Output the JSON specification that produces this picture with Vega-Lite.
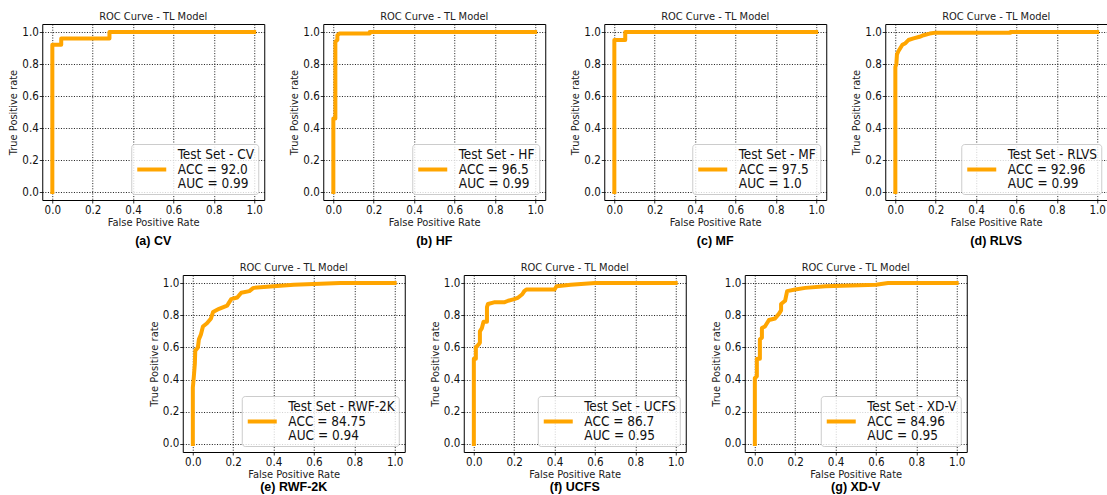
{
  "$schema": "https://vega.github.io/schema/vega-lite/v6.json",
  "padding": {"left": 7, "top": 10, "right": 0, "bottom": 0},
  "background": "white",
  "datasets": {
    "cv": [
      {"i": 0, "fpr": 0, "tpr": 0, "s": "ACC = 92.0|AUC = 0.99"},
      {"i": 1, "fpr": 0, "tpr": 0.92, "s": "ACC = 92.0|AUC = 0.99"},
      {"i": 2, "fpr": 0.044, "tpr": 0.92, "s": "ACC = 92.0|AUC = 0.99"},
      {"i": 3, "fpr": 0.044, "tpr": 0.96, "s": "ACC = 92.0|AUC = 0.99"},
      {"i": 4, "fpr": 0.283, "tpr": 0.96, "s": "ACC = 92.0|AUC = 0.99"},
      {"i": 5, "fpr": 0.283, "tpr": 1.0, "s": "ACC = 92.0|AUC = 0.99"},
      {"i": 6, "fpr": 1, "tpr": 1.0, "s": "ACC = 92.0|AUC = 0.99"}
    ],
    "hf": [
      {"i": 0, "fpr": 0, "tpr": 0, "s": "ACC = 96.5|AUC = 0.99"},
      {"i": 1, "fpr": 0, "tpr": 0.46, "s": "ACC = 96.5|AUC = 0.99"},
      {"i": 2, "fpr": 0.01, "tpr": 0.46, "s": "ACC = 96.5|AUC = 0.99"},
      {"i": 3, "fpr": 0.01, "tpr": 0.94, "s": "ACC = 96.5|AUC = 0.99"},
      {"i": 4, "fpr": 0.02, "tpr": 0.95, "s": "ACC = 96.5|AUC = 0.99"},
      {"i": 5, "fpr": 0.02, "tpr": 0.98, "s": "ACC = 96.5|AUC = 0.99"},
      {"i": 6, "fpr": 0.03, "tpr": 0.99, "s": "ACC = 96.5|AUC = 0.99"},
      {"i": 7, "fpr": 0.18, "tpr": 0.99, "s": "ACC = 96.5|AUC = 0.99"},
      {"i": 8, "fpr": 0.18, "tpr": 1.0, "s": "ACC = 96.5|AUC = 0.99"},
      {"i": 9, "fpr": 1, "tpr": 1.0, "s": "ACC = 96.5|AUC = 0.99"}
    ],
    "mf": [
      {"i": 0, "fpr": 0, "tpr": 0, "s": "ACC = 97.5|AUC = 1.0"},
      {"i": 1, "fpr": 0, "tpr": 0.95, "s": "ACC = 97.5|AUC = 1.0"},
      {"i": 2, "fpr": 0.054, "tpr": 0.95, "s": "ACC = 97.5|AUC = 1.0"},
      {"i": 3, "fpr": 0.054, "tpr": 1.0, "s": "ACC = 97.5|AUC = 1.0"},
      {"i": 4, "fpr": 1, "tpr": 1.0, "s": "ACC = 97.5|AUC = 1.0"}
    ],
    "rlvs": [
      {"i": 0, "fpr": 0, "tpr": 0, "s": "ACC = 92.96|AUC = 0.99"},
      {"i": 1, "fpr": 0, "tpr": 0.78, "s": "ACC = 92.96|AUC = 0.99"},
      {"i": 2, "fpr": 0.005, "tpr": 0.8, "s": "ACC = 92.96|AUC = 0.99"},
      {"i": 3, "fpr": 0.008, "tpr": 0.86, "s": "ACC = 92.96|AUC = 0.99"},
      {"i": 4, "fpr": 0.015, "tpr": 0.88, "s": "ACC = 92.96|AUC = 0.99"},
      {"i": 5, "fpr": 0.025, "tpr": 0.9, "s": "ACC = 92.96|AUC = 0.99"},
      {"i": 6, "fpr": 0.035, "tpr": 0.92, "s": "ACC = 92.96|AUC = 0.99"},
      {"i": 7, "fpr": 0.05, "tpr": 0.93, "s": "ACC = 92.96|AUC = 0.99"},
      {"i": 8, "fpr": 0.065, "tpr": 0.95, "s": "ACC = 92.96|AUC = 0.99"},
      {"i": 9, "fpr": 0.09, "tpr": 0.96, "s": "ACC = 92.96|AUC = 0.99"},
      {"i": 10, "fpr": 0.12, "tpr": 0.97, "s": "ACC = 92.96|AUC = 0.99"},
      {"i": 11, "fpr": 0.14, "tpr": 0.98, "s": "ACC = 92.96|AUC = 0.99"},
      {"i": 12, "fpr": 0.17, "tpr": 0.99, "s": "ACC = 92.96|AUC = 0.99"},
      {"i": 13, "fpr": 0.2, "tpr": 0.996, "s": "ACC = 92.96|AUC = 0.99"},
      {"i": 14, "fpr": 0.57, "tpr": 0.996, "s": "ACC = 92.96|AUC = 0.99"},
      {"i": 15, "fpr": 0.57, "tpr": 1.0, "s": "ACC = 92.96|AUC = 0.99"},
      {"i": 16, "fpr": 1, "tpr": 1.0, "s": "ACC = 92.96|AUC = 0.99"}
    ],
    "rwf": [
      {"i": 0, "fpr": 0, "tpr": 0, "s": "ACC = 84.75|AUC = 0.94"},
      {"i": 1, "fpr": 0, "tpr": 0.35, "s": "ACC = 84.75|AUC = 0.94"},
      {"i": 2, "fpr": 0.005, "tpr": 0.42, "s": "ACC = 84.75|AUC = 0.94"},
      {"i": 3, "fpr": 0.01, "tpr": 0.5, "s": "ACC = 84.75|AUC = 0.94"},
      {"i": 4, "fpr": 0.012, "tpr": 0.58, "s": "ACC = 84.75|AUC = 0.94"},
      {"i": 5, "fpr": 0.025, "tpr": 0.6, "s": "ACC = 84.75|AUC = 0.94"},
      {"i": 6, "fpr": 0.03, "tpr": 0.65, "s": "ACC = 84.75|AUC = 0.94"},
      {"i": 7, "fpr": 0.04, "tpr": 0.68, "s": "ACC = 84.75|AUC = 0.94"},
      {"i": 8, "fpr": 0.05, "tpr": 0.73, "s": "ACC = 84.75|AUC = 0.94"},
      {"i": 9, "fpr": 0.07, "tpr": 0.75, "s": "ACC = 84.75|AUC = 0.94"},
      {"i": 10, "fpr": 0.09, "tpr": 0.78, "s": "ACC = 84.75|AUC = 0.94"},
      {"i": 11, "fpr": 0.1, "tpr": 0.82, "s": "ACC = 84.75|AUC = 0.94"},
      {"i": 12, "fpr": 0.13, "tpr": 0.84, "s": "ACC = 84.75|AUC = 0.94"},
      {"i": 13, "fpr": 0.17, "tpr": 0.86, "s": "ACC = 84.75|AUC = 0.94"},
      {"i": 14, "fpr": 0.19, "tpr": 0.9, "s": "ACC = 84.75|AUC = 0.94"},
      {"i": 15, "fpr": 0.22, "tpr": 0.91, "s": "ACC = 84.75|AUC = 0.94"},
      {"i": 16, "fpr": 0.24, "tpr": 0.94, "s": "ACC = 84.75|AUC = 0.94"},
      {"i": 17, "fpr": 0.28, "tpr": 0.95, "s": "ACC = 84.75|AUC = 0.94"},
      {"i": 18, "fpr": 0.3, "tpr": 0.97, "s": "ACC = 84.75|AUC = 0.94"},
      {"i": 19, "fpr": 0.4, "tpr": 0.98, "s": "ACC = 84.75|AUC = 0.94"},
      {"i": 20, "fpr": 0.5, "tpr": 0.99, "s": "ACC = 84.75|AUC = 0.94"},
      {"i": 21, "fpr": 0.73, "tpr": 1.0, "s": "ACC = 84.75|AUC = 0.94"},
      {"i": 22, "fpr": 1, "tpr": 1.0, "s": "ACC = 84.75|AUC = 0.94"}
    ],
    "ucfs": [
      {"i": 0, "fpr": 0, "tpr": 0, "s": "ACC = 86.7|AUC = 0.95"},
      {"i": 1, "fpr": 0, "tpr": 0.53, "s": "ACC = 86.7|AUC = 0.95"},
      {"i": 2, "fpr": 0.01, "tpr": 0.53, "s": "ACC = 86.7|AUC = 0.95"},
      {"i": 3, "fpr": 0.01, "tpr": 0.6, "s": "ACC = 86.7|AUC = 0.95"},
      {"i": 4, "fpr": 0.025, "tpr": 0.62, "s": "ACC = 86.7|AUC = 0.95"},
      {"i": 5, "fpr": 0.03, "tpr": 0.63, "s": "ACC = 86.7|AUC = 0.95"},
      {"i": 6, "fpr": 0.03, "tpr": 0.7, "s": "ACC = 86.7|AUC = 0.95"},
      {"i": 7, "fpr": 0.04, "tpr": 0.72, "s": "ACC = 86.7|AUC = 0.95"},
      {"i": 8, "fpr": 0.048, "tpr": 0.76, "s": "ACC = 86.7|AUC = 0.95"},
      {"i": 9, "fpr": 0.065, "tpr": 0.76, "s": "ACC = 86.7|AUC = 0.95"},
      {"i": 10, "fpr": 0.065, "tpr": 0.85, "s": "ACC = 86.7|AUC = 0.95"},
      {"i": 11, "fpr": 0.07, "tpr": 0.87, "s": "ACC = 86.7|AUC = 0.95"},
      {"i": 12, "fpr": 0.1, "tpr": 0.88, "s": "ACC = 86.7|AUC = 0.95"},
      {"i": 13, "fpr": 0.15, "tpr": 0.88, "s": "ACC = 86.7|AUC = 0.95"},
      {"i": 14, "fpr": 0.17, "tpr": 0.89, "s": "ACC = 86.7|AUC = 0.95"},
      {"i": 15, "fpr": 0.2, "tpr": 0.9, "s": "ACC = 86.7|AUC = 0.95"},
      {"i": 16, "fpr": 0.22, "tpr": 0.91, "s": "ACC = 86.7|AUC = 0.95"},
      {"i": 17, "fpr": 0.24, "tpr": 0.93, "s": "ACC = 86.7|AUC = 0.95"},
      {"i": 18, "fpr": 0.25, "tpr": 0.95, "s": "ACC = 86.7|AUC = 0.95"},
      {"i": 19, "fpr": 0.26, "tpr": 0.96, "s": "ACC = 86.7|AUC = 0.95"},
      {"i": 20, "fpr": 0.4, "tpr": 0.96, "s": "ACC = 86.7|AUC = 0.95"},
      {"i": 21, "fpr": 0.41, "tpr": 0.98, "s": "ACC = 86.7|AUC = 0.95"},
      {"i": 22, "fpr": 0.48, "tpr": 0.99, "s": "ACC = 86.7|AUC = 0.95"},
      {"i": 23, "fpr": 0.6, "tpr": 1.0, "s": "ACC = 86.7|AUC = 0.95"},
      {"i": 24, "fpr": 1, "tpr": 1.0, "s": "ACC = 86.7|AUC = 0.95"}
    ],
    "xdv": [
      {"i": 0, "fpr": 0, "tpr": 0, "s": "ACC = 84.96|AUC = 0.95"},
      {"i": 1, "fpr": 0, "tpr": 0.41, "s": "ACC = 84.96|AUC = 0.95"},
      {"i": 2, "fpr": 0.01, "tpr": 0.42, "s": "ACC = 84.96|AUC = 0.95"},
      {"i": 3, "fpr": 0.01, "tpr": 0.53, "s": "ACC = 84.96|AUC = 0.95"},
      {"i": 4, "fpr": 0.025, "tpr": 0.53, "s": "ACC = 84.96|AUC = 0.95"},
      {"i": 5, "fpr": 0.025, "tpr": 0.65, "s": "ACC = 84.96|AUC = 0.95"},
      {"i": 6, "fpr": 0.035, "tpr": 0.66, "s": "ACC = 84.96|AUC = 0.95"},
      {"i": 7, "fpr": 0.035, "tpr": 0.72, "s": "ACC = 84.96|AUC = 0.95"},
      {"i": 8, "fpr": 0.05, "tpr": 0.73, "s": "ACC = 84.96|AUC = 0.95"},
      {"i": 9, "fpr": 0.07, "tpr": 0.77, "s": "ACC = 84.96|AUC = 0.95"},
      {"i": 10, "fpr": 0.1, "tpr": 0.78, "s": "ACC = 84.96|AUC = 0.95"},
      {"i": 11, "fpr": 0.12, "tpr": 0.81, "s": "ACC = 84.96|AUC = 0.95"},
      {"i": 12, "fpr": 0.13, "tpr": 0.83, "s": "ACC = 84.96|AUC = 0.95"},
      {"i": 13, "fpr": 0.13, "tpr": 0.87, "s": "ACC = 84.96|AUC = 0.95"},
      {"i": 14, "fpr": 0.15, "tpr": 0.89, "s": "ACC = 84.96|AUC = 0.95"},
      {"i": 15, "fpr": 0.16, "tpr": 0.95, "s": "ACC = 84.96|AUC = 0.95"},
      {"i": 16, "fpr": 0.2, "tpr": 0.96, "s": "ACC = 84.96|AUC = 0.95"},
      {"i": 17, "fpr": 0.25, "tpr": 0.97, "s": "ACC = 84.96|AUC = 0.95"},
      {"i": 18, "fpr": 0.35, "tpr": 0.98, "s": "ACC = 84.96|AUC = 0.95"},
      {"i": 19, "fpr": 0.6, "tpr": 0.99, "s": "ACC = 84.96|AUC = 0.95"},
      {"i": 20, "fpr": 0.66, "tpr": 1.0, "s": "ACC = 84.96|AUC = 0.95"},
      {"i": 21, "fpr": 1, "tpr": 1.0, "s": "ACC = 84.96|AUC = 0.95"}
    ]
  },
  "vconcat": [
    {
      "hconcat": [
        {
          "title": {"text": "(a) CV", "orient": "bottom", "anchor": "middle", "font": "Liberation Sans", "fontSize": 12.5, "fontWeight": "bold", "color": "#000000", "dx": 111, "offset": 7},
          "vconcat": [{"width": 222, "height": 176, "title": "ROC Curve - TL Model", "data": {"name": "cv"}, "mark": {"type": "line"},
            "encoding": {
              "x": {"field": "fpr", "type": "quantitative", "scale": {"domain": [-0.05, 1.05], "nice": false, "zero": false}, "axis": {"title": "False Positive Rate", "values": [0, 0.2, 0.4, 0.6, 0.8, 1]}},
              "y": {"field": "tpr", "type": "quantitative", "scale": {"domain": [-0.05, 1.05], "nice": false, "zero": false}, "axis": {"title": "True Positive rate", "values": [0, 0.2, 0.4, 0.6, 0.8, 1]}},
              "order": {"field": "i", "type": "quantitative"},
              "color": {"field": "s", "type": "nominal", "scale": {"range": ["#FFA500"]}, "legend": {"title": "\u200b\u00a0\u00a0\u00a0\u00a0\u00a0\u00a0\u00a0\u00a0\u00a0\u00a0\u00a0Test Set - CV", "labelExpr": "split(datum.label, '|')"}}
            }}],
          "resolve": {"scale": {"color": "independent"}, "legend": {"color": "independent"}}
        },
        {
          "title": {"text": "(b) HF", "orient": "bottom", "anchor": "middle", "font": "Liberation Sans", "fontSize": 12.5, "fontWeight": "bold", "color": "#000000", "dx": 111, "offset": 7},
          "vconcat": [{"width": 222, "height": 176, "title": "ROC Curve - TL Model", "data": {"name": "hf"}, "mark": {"type": "line"},
            "encoding": {
              "x": {"field": "fpr", "type": "quantitative", "scale": {"domain": [-0.05, 1.05], "nice": false, "zero": false}, "axis": {"title": "False Positive Rate", "values": [0, 0.2, 0.4, 0.6, 0.8, 1]}},
              "y": {"field": "tpr", "type": "quantitative", "scale": {"domain": [-0.05, 1.05], "nice": false, "zero": false}, "axis": {"title": "True Positive rate", "values": [0, 0.2, 0.4, 0.6, 0.8, 1]}},
              "order": {"field": "i", "type": "quantitative"},
              "color": {"field": "s", "type": "nominal", "scale": {"range": ["#FFA500"]}, "legend": {"title": "\u200b\u00a0\u00a0\u00a0\u00a0\u00a0\u00a0\u00a0\u00a0\u00a0\u00a0\u00a0Test Set - HF", "labelExpr": "split(datum.label, '|')"}}
            }}],
          "resolve": {"scale": {"color": "independent"}, "legend": {"color": "independent"}}
        },
        {
          "title": {"text": "(c) MF", "orient": "bottom", "anchor": "middle", "font": "Liberation Sans", "fontSize": 12.5, "fontWeight": "bold", "color": "#000000", "dx": 111, "offset": 7},
          "vconcat": [{"width": 222, "height": 176, "title": "ROC Curve - TL Model", "data": {"name": "mf"}, "mark": {"type": "line"},
            "encoding": {
              "x": {"field": "fpr", "type": "quantitative", "scale": {"domain": [-0.05, 1.05], "nice": false, "zero": false}, "axis": {"title": "False Positive Rate", "values": [0, 0.2, 0.4, 0.6, 0.8, 1]}},
              "y": {"field": "tpr", "type": "quantitative", "scale": {"domain": [-0.05, 1.05], "nice": false, "zero": false}, "axis": {"title": "True Positive rate", "values": [0, 0.2, 0.4, 0.6, 0.8, 1]}},
              "order": {"field": "i", "type": "quantitative"},
              "color": {"field": "s", "type": "nominal", "scale": {"range": ["#FFA500"]}, "legend": {"title": "\u200b\u00a0\u00a0\u00a0\u00a0\u00a0\u00a0\u00a0\u00a0\u00a0\u00a0\u00a0Test Set - MF", "labelExpr": "split(datum.label, '|')"}}
            }}],
          "resolve": {"scale": {"color": "independent"}, "legend": {"color": "independent"}}
        },
        {
          "title": {"text": "(d) RLVS", "orient": "bottom", "anchor": "middle", "font": "Liberation Sans", "fontSize": 12.5, "fontWeight": "bold", "color": "#000000", "dx": 111, "offset": 7},
          "vconcat": [{"width": 222, "height": 176, "title": "ROC Curve - TL Model", "data": {"name": "rlvs"}, "mark": {"type": "line"},
            "encoding": {
              "x": {"field": "fpr", "type": "quantitative", "scale": {"domain": [-0.05, 1.05], "nice": false, "zero": false}, "axis": {"title": "False Positive Rate", "values": [0, 0.2, 0.4, 0.6, 0.8, 1]}},
              "y": {"field": "tpr", "type": "quantitative", "scale": {"domain": [-0.05, 1.05], "nice": false, "zero": false}, "axis": {"title": "True Positive rate", "values": [0, 0.2, 0.4, 0.6, 0.8, 1]}},
              "order": {"field": "i", "type": "quantitative"},
              "color": {"field": "s", "type": "nominal", "scale": {"range": ["#FFA500"]}, "legend": {"title": "\u200b\u00a0\u00a0\u00a0\u00a0\u00a0\u00a0\u00a0\u00a0\u00a0\u00a0\u00a0Test Set - RLVS", "labelExpr": "split(datum.label, '|')"}}
            }}],
          "resolve": {"scale": {"color": "independent"}, "legend": {"color": "independent"}}
        }
      ],
      "spacing": 23,
      "resolve": {"scale": {"color": "independent"}, "legend": {"color": "independent"}}
    },
    {
      "hconcat": [
        {
          "title": {"text": "(e) RWF-2K", "orient": "bottom", "anchor": "middle", "font": "Liberation Sans", "fontSize": 12.5, "fontWeight": "bold", "color": "#000000", "dx": 111, "offset": 1},
          "vconcat": [{"width": 222, "height": 177, "title": "ROC Curve - TL Model", "data": {"name": "rwf"}, "mark": {"type": "line"},
            "encoding": {
              "x": {"field": "fpr", "type": "quantitative", "scale": {"domain": [-0.05, 1.05], "nice": false, "zero": false}, "axis": {"title": "False Positive Rate", "values": [0, 0.2, 0.4, 0.6, 0.8, 1]}},
              "y": {"field": "tpr", "type": "quantitative", "scale": {"domain": [-0.05, 1.05], "nice": false, "zero": false}, "axis": {"title": "True Positive rate", "values": [0, 0.2, 0.4, 0.6, 0.8, 1]}},
              "order": {"field": "i", "type": "quantitative"},
              "color": {"field": "s", "type": "nominal", "scale": {"range": ["#FFA500"]}, "legend": {"title": "\u200b\u00a0\u00a0\u00a0\u00a0\u00a0\u00a0\u00a0\u00a0\u00a0\u00a0\u00a0Test Set - RWF-2K", "labelExpr": "split(datum.label, '|')"}}
            }}],
          "resolve": {"scale": {"color": "independent"}, "legend": {"color": "independent"}}
        },
        {
          "title": {"text": "(f) UCFS", "orient": "bottom", "anchor": "middle", "font": "Liberation Sans", "fontSize": 12.5, "fontWeight": "bold", "color": "#000000", "dx": 111, "offset": 1},
          "vconcat": [{"width": 222, "height": 177, "title": "ROC Curve - TL Model", "data": {"name": "ucfs"}, "mark": {"type": "line"},
            "encoding": {
              "x": {"field": "fpr", "type": "quantitative", "scale": {"domain": [-0.05, 1.05], "nice": false, "zero": false}, "axis": {"title": "False Positive Rate", "values": [0, 0.2, 0.4, 0.6, 0.8, 1]}},
              "y": {"field": "tpr", "type": "quantitative", "scale": {"domain": [-0.05, 1.05], "nice": false, "zero": false}, "axis": {"title": "True Positive rate", "values": [0, 0.2, 0.4, 0.6, 0.8, 1]}},
              "order": {"field": "i", "type": "quantitative"},
              "color": {"field": "s", "type": "nominal", "scale": {"range": ["#FFA500"]}, "legend": {"title": "\u200b\u00a0\u00a0\u00a0\u00a0\u00a0\u00a0\u00a0\u00a0\u00a0\u00a0\u00a0Test Set - UCFS", "labelExpr": "split(datum.label, '|')"}}
            }}],
          "resolve": {"scale": {"color": "independent"}, "legend": {"color": "independent"}}
        },
        {
          "title": {"text": "(g) XD-V", "orient": "bottom", "anchor": "middle", "font": "Liberation Sans", "fontSize": 12.5, "fontWeight": "bold", "color": "#000000", "dx": 111, "offset": 1},
          "vconcat": [{"width": 222, "height": 177, "title": "ROC Curve - TL Model", "data": {"name": "xdv"}, "mark": {"type": "line"},
            "encoding": {
              "x": {"field": "fpr", "type": "quantitative", "scale": {"domain": [-0.05, 1.05], "nice": false, "zero": false}, "axis": {"title": "False Positive Rate", "values": [0, 0.2, 0.4, 0.6, 0.8, 1]}},
              "y": {"field": "tpr", "type": "quantitative", "scale": {"domain": [-0.05, 1.05], "nice": false, "zero": false}, "axis": {"title": "True Positive rate", "values": [0, 0.2, 0.4, 0.6, 0.8, 1]}},
              "order": {"field": "i", "type": "quantitative"},
              "color": {"field": "s", "type": "nominal", "scale": {"range": ["#FFA500"]}, "legend": {"title": "\u200b\u00a0\u00a0\u00a0\u00a0\u00a0\u00a0\u00a0\u00a0\u00a0\u00a0\u00a0Test Set - XD-V", "labelExpr": "split(datum.label, '|')"}}
            }}],
          "resolve": {"scale": {"color": "independent"}, "legend": {"color": "independent"}}
        }
      ],
      "spacing": 23,
      "resolve": {"scale": {"color": "independent"}, "legend": {"color": "independent"}}
    }
  ],
  "spacing": 13,
  "center": true,
  "resolve": {"scale": {"color": "independent"}, "legend": {"color": "independent"}},
  "config": {
    "view": {"stroke": "#000000", "strokeWidth": 1},
    "line": {"strokeWidth": 4, "strokeCap": "square", "strokeJoin": "round"},
    "style": {"guide-label": {"lineHeight": 14}},
    "title": {"font": "DejaVu Sans Condensed, DejaVu Sans", "fontSize": 11, "fontWeight": "normal", "color": "#222222", "offset": 2, "anchor": "middle", "frame": "group"},
    "concat": {"spacing": 23},
    "axis": {
      "labelFont": "DejaVu Sans Condensed, DejaVu Sans", "labelFontSize": 11.5, "labelColor": "#111111",
      "titleFont": "DejaVu Sans Condensed, DejaVu Sans", "titleFontSize": 11, "titleFontWeight": "normal", "titleColor": "#222222",
      "tickColor": "#000000", "tickSize": 3, "tickWidth": 0.8, "domain": false,
      "grid": true, "gridColor": "#000000", "gridDash": [1, 1.6], "gridWidth": 0.9, "gridOpacity": 1,
      "format": ".1f", "labelFlush": false, "labelOverlap": false
    },
    "axisX": {"labelPadding": 1, "titlePadding": 1},
    "axisY": {"labelPadding": 1, "titlePadding": 3},
    "legend": {
      "orient": "bottom-right", "offset": 6, "padding": 4,
      "fillColor": "rgba(255,255,255,0.8)", "strokeColor": "#cccccc", "cornerRadius": 3,
      "symbolType": "stroke", "symbolSize": 841, "symbolStrokeWidth": 4,
      "labelFont": "DejaVu Sans Condensed, DejaVu Sans", "labelFontSize": 13.5, "labelColor": "#111111", "labelOffset": 9.6,
      "titleFont": "DejaVu Sans Condensed, DejaVu Sans", "titleFontSize": 13.5, "titleColor": "#111111", "titleFontWeight": "normal",
      "titleAnchor": "start", "titleAlign": "left", "titlePadding": -8.5, "titleLimit": 400,
      "labelLimit": 300
    }
  }
}
